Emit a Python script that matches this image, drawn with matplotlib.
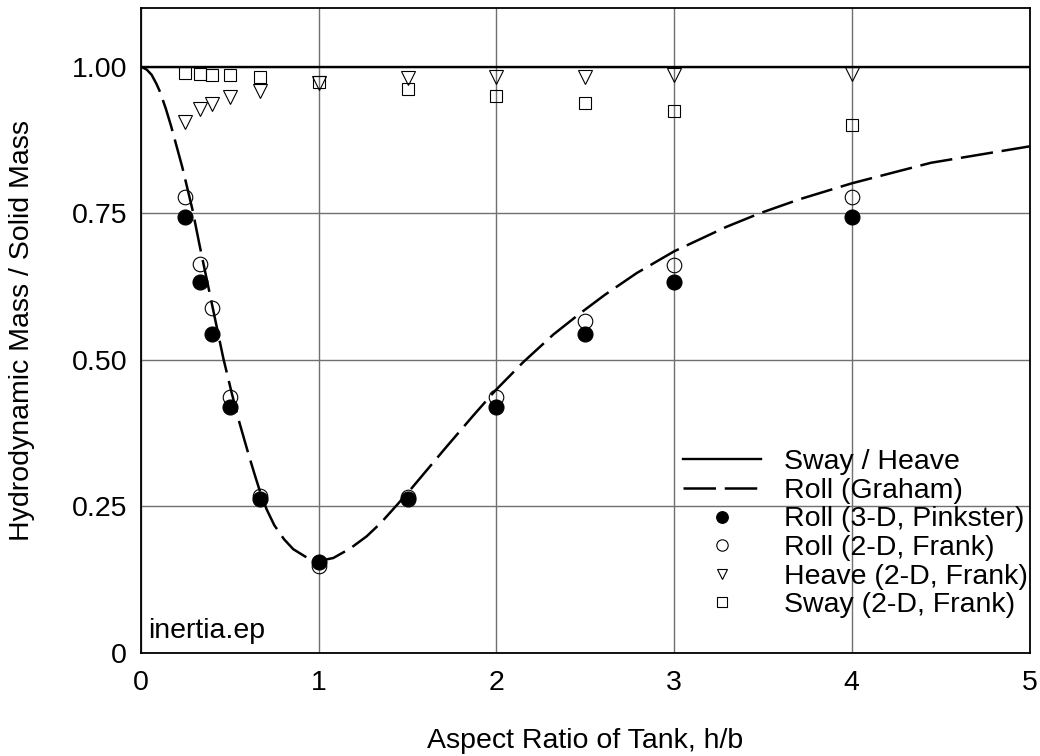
import matplotlib
matplotlib.use("Agg")
import matplotlib.pyplot as plt
from matplotlib.ticker import FixedLocator, FixedFormatter

plt.rcParams['font.family'] = ['Liberation Sans', 'DejaVu Sans']

# Aspect ratios h/b at which the tank was evaluated
ratio = [0.25, 0.333, 0.4, 0.5, 0.667, 1.0, 1.5, 2.0, 2.5, 3.0, 4.0]

roll_pinkster = [0.743, 0.633, 0.544, 0.419, 0.263, 0.156, 0.263, 0.419, 0.544, 0.633, 0.743]
roll_frank = [0.778, 0.664, 0.588, 0.437, 0.267, 0.148, 0.266, 0.436, 0.567, 0.661, 0.778]
heave_frank = [0.905, 0.927, 0.937, 0.949, 0.958, 0.972, 0.980, 0.983, 0.983, 0.986, 0.987]
sway_frank = [0.989, 0.988, 0.986, 0.985, 0.982, 0.973, 0.962, 0.950, 0.938, 0.925, 0.901]

# Sway / heave reference level
sway_heave_x = [0.0, 5.0]
sway_heave_y = [1.0, 1.0]

# Roll curve after Graham
graham_x = [0.0, 0.032, 0.060, 0.088, 0.107, 0.140, 0.169, 0.232, 0.289, 0.332,
            0.384, 0.463, 0.510, 0.551, 0.604, 0.640, 0.670, 0.707, 0.750, 0.805,
            0.857, 0.932, 1.0, 1.082, 1.176, 1.27, 1.35, 1.439, 1.523, 1.62,
            1.72, 1.87, 1.992, 2.151, 2.32, 2.47, 2.611, 2.79, 3.0, 3.296,
            3.483, 3.708, 4.0, 4.445, 5.0]
graham_y = [1.0, 0.995, 0.986, 0.970, 0.957, 0.928, 0.899, 0.829, 0.757, 0.692,
            0.617, 0.503, 0.444, 0.396, 0.340, 0.304, 0.275, 0.245, 0.218, 0.194,
            0.177, 0.163, 0.157, 0.162, 0.178, 0.199, 0.222, 0.252, 0.281, 0.316,
            0.352, 0.405, 0.447, 0.496, 0.543, 0.579, 0.611, 0.648, 0.685, 0.727,
            0.750, 0.774, 0.801, 0.836, 0.864]

x_ticks = [0, 1, 2, 3, 4, 5]
x_tick_labels = ["0", "1", "2", "3", "4", "5"]
y_ticks = [0, 0.25, 0.5, 0.75, 1.0]
y_tick_labels = ["0", "0.25", "0.50", "0.75", "1.00"]

FS = 20.5

fig = plt.figure(figsize=(10.4, 7.56), dpi=100)
ax = fig.add_axes([141 / 1040, 103 / 756, 888.5 / 1040, 645 / 756])

ax.set_xlim(0, 5)
ax.set_ylim(0, 1.1)

ax.xaxis.set_major_locator(FixedLocator(x_ticks))
ax.xaxis.set_major_formatter(FixedFormatter(x_tick_labels))
ax.yaxis.set_major_locator(FixedLocator(y_ticks))
ax.yaxis.set_major_formatter(FixedFormatter(y_tick_labels))
ax.tick_params(axis='x', length=0, pad=12, labelsize=FS)
ax.tick_params(axis='y', length=0, pad=10, labelsize=FS)

ax.grid(True, color='#707070', linewidth=1.0)
ax.set_axisbelow(True)
for s in ax.spines.values():
    s.set_linewidth(1.3)
    s.set_color('black')

ax.plot(sway_heave_x, sway_heave_y, color='black', lw=1.7,
        label='Sway / Heave', zorder=3)
ax.plot(graham_x, graham_y, color='black', lw=1.8, dashes=(13, 3.5),
        label='Roll (Graham)', zorder=3)

ax.plot(ratio, roll_pinkster, ls='none', marker='o', ms=10.8,
        mfc='black', mec='black', mew=0.8, label='Roll (3-D, Pinkster)', zorder=4)
ax.plot(ratio, roll_frank, ls='none', marker='o', ms=10.5,
        mfc='none', mec='black', mew=0.8, label='Roll (2-D, Frank)', zorder=4)
ax.plot(ratio, heave_frank, ls='none', marker='v', ms=9.4,
        mfc='none', mec='black', mew=0.8, label='Heave (2-D, Frank)', zorder=4)
ax.plot(ratio, sway_frank, ls='none', marker='s', ms=9.0,
        mfc='none', mec='black', mew=0.8, label='Sway (2-D, Frank)', zorder=4)

ax.set_xlabel('Aspect Ratio of Tank, h/b', fontsize=FS, va='center')
ax.xaxis.set_label_coords(0.5, -0.136)
ax.set_ylabel('Hydrodynamic Mass / Solid Mass', fontsize=FS, va='center')
ax.yaxis.set_label_coords(-0.134, 0.5)

ax.text(0.008, 0.0228, 'inertia.ep', transform=ax.transAxes,
        fontsize=FS, ha='left', va='baseline')

leg = ax.legend(loc='lower right', bbox_to_anchor=(0.998, 0.054),
                frameon=False, fontsize=FS, borderpad=0, borderaxespad=0,
                handlelength=2.73, handletextpad=0.8, labelspacing=0.09,
                markerscale=0.78)

fig.savefig('out.png', dpi=100)
